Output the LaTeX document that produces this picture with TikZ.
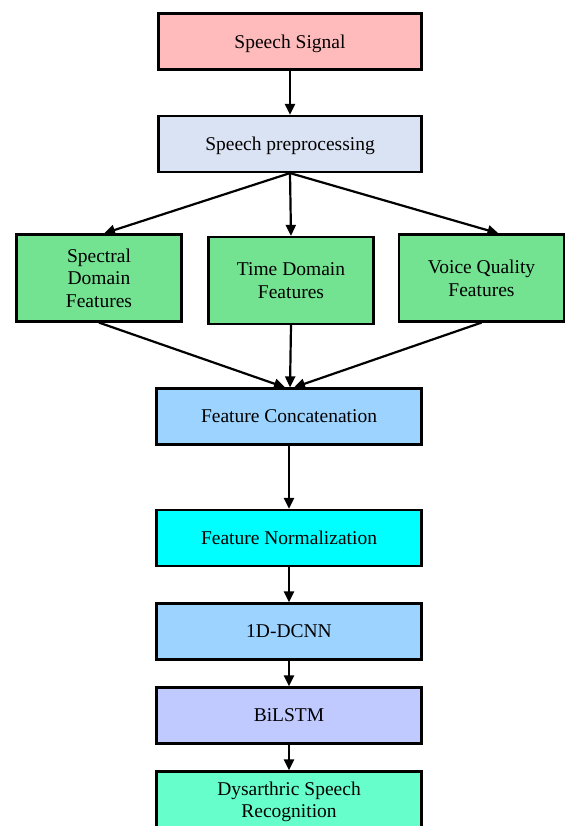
\documentclass[tikz,border=0pt]{standalone}
\usepackage{fontspec}
\setmainfont{Liberation Serif}
\usepackage{xcolor}
\usetikzlibrary{positioning,arrows.meta}

\definecolor{sigpink}{HTML}{FFBBBB}
\definecolor{prepgray}{HTML}{DAE3F3}
\definecolor{featgreen}{HTML}{73E291}
\definecolor{concblue}{HTML}{9CD3FF}
\definecolor{normcyan}{HTML}{00FFFF}
\definecolor{lstmblue}{HTML}{C0CAFF}
\definecolor{outaqua}{HTML}{66FFCC}

\begin{document}
\begin{tikzpicture}[x=1pt, y=-1pt,
  box/.style={draw, line width=2.2pt, minimum width=263pt, minimum height=56pt,
    inner sep=2pt, align=center, text depth=0pt, font=\fontsize{19.5}{22.5}\selectfont},
  featbox/.style={box, fill=featgreen, minimum width=165pt, minimum height=87pt},
  flow/.style={line width=2.2pt, -{Triangle[length=11pt,width=10pt]}}]
\useasboundingbox (0,0) rectangle (565,826);

\node[box, fill=sigpink] (signal) at (290,41.5) {Speech Signal};
\node[box, fill=prepgray] (preproc) at (290,144) {Speech preprocessing};

\node[featbox] (feat_0) at (99,278) {Spectral\\Domain\\Features};
\node[featbox] (feat_1) at (291,280.5) {Time Domain\\Features};
\node[featbox] (feat_2) at (481.5,278) {Voice Quality\\Features};

\node[box, fill=concblue, minimum width=265pt] (concat) at (289,416.5) {Feature Concatenation};
\node[box, fill=normcyan, minimum width=265pt] (norm) at (289,538) {Feature Normalization};
\node[box, fill=concblue, minimum width=265pt] (dcnn) at (289,631.5) {1D-DCNN};
\node[box, fill=lstmblue, minimum width=265pt] (bilstm) at (289,715.5) {BiLSTM};
\node[box, fill=outaqua, minimum width=265pt] (result) at (289,799.5) {Dysarthric Speech\\Recognition};

\draw[flow] (signal) -- (preproc);
\draw[flow] (preproc.south) -- ([xshift=5pt]feat_0.north);
\draw[flow] (preproc.south) -- (feat_1.north);
\draw[flow] (preproc.south) -- ([xshift=17pt]feat_2.north);

\draw[flow] (feat_0.south) -- ([xshift=-4pt]concat.north);
\draw[flow] (feat_1.south) -- ([xshift=1pt]concat.north);
\draw[flow] (feat_2.south) -- ([xshift=5pt]concat.north);

\draw[flow] (concat) -- (norm);
\draw[flow] (norm) -- (dcnn);
\draw[flow] (dcnn) -- (bilstm);
\draw[flow] (bilstm) -- (result);

\end{tikzpicture}
\end{document}
